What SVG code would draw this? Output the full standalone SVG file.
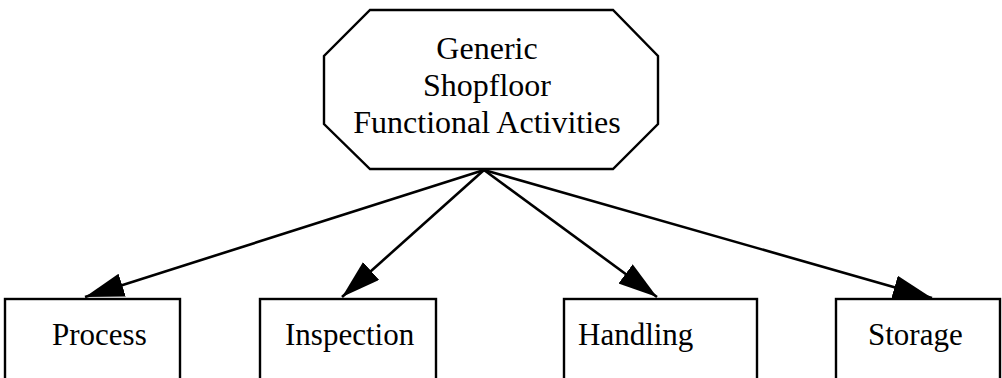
<svg xmlns="http://www.w3.org/2000/svg" width="1002" height="378" viewBox="0 0 1002 378">
  <style>
    .shape { fill: #fff; stroke: #000; stroke-width: 2.4; }
    .label { font-family: "Liberation Serif", "Times New Roman", serif; font-size: 31px; fill: #000; }
    .title { font-family: "Liberation Serif", "Times New Roman", serif; font-size: 32px; fill: #000; text-anchor: middle; }
    .edge { stroke: #000; stroke-width: 2.6; fill: none; marker-end: url(#arrow); }
  </style>
  <defs>
    <marker id="arrow" markerUnits="userSpaceOnUse" markerWidth="42" markerHeight="26" refX="39" refY="12" orient="auto">
      <path d="M0,0 L39,12 L0,24 Z" fill="#000"/>
    </marker>
  </defs>
  <rect width="1002" height="378" fill="#fff"/>

  <g id="root">
    <polygon class="shape" points="370,10 613,10 658,56 658,124 613,169 370,169 324,124 324,56"/>
    <text class="title" x="487" y="59">Generic</text>
    <text class="title" x="487" y="96">Shopfloor</text>
    <text class="title" x="487" y="133">Functional Activities</text>
  </g>

  <g id="process">
    <rect class="shape" x="5" y="299" width="175" height="100"/>
    <text class="label" x="52" y="345">Process</text>
  </g>
  <g id="inspection">
    <rect class="shape" x="260" y="299" width="176" height="100"/>
    <text class="label" x="285" y="345">Inspection</text>
  </g>
  <g id="handling">
    <rect class="shape" x="564" y="299" width="193" height="100"/>
    <text class="label" x="578" y="345">Handling</text>
  </g>
  <g id="storage">
    <rect class="shape" x="836" y="299" width="164" height="100"/>
    <text class="label" x="868" y="345">Storage</text>
  </g>

  <g id="connectors">
    <line class="edge" x1="484" y1="170" x2="85" y2="297"/>
    <line class="edge" x1="484" y1="170" x2="342" y2="297"/>
    <line class="edge" x1="484" y1="170" x2="657" y2="297"/>
    <line class="edge" x1="484" y1="170" x2="932" y2="298"/>
  </g>
</svg>
